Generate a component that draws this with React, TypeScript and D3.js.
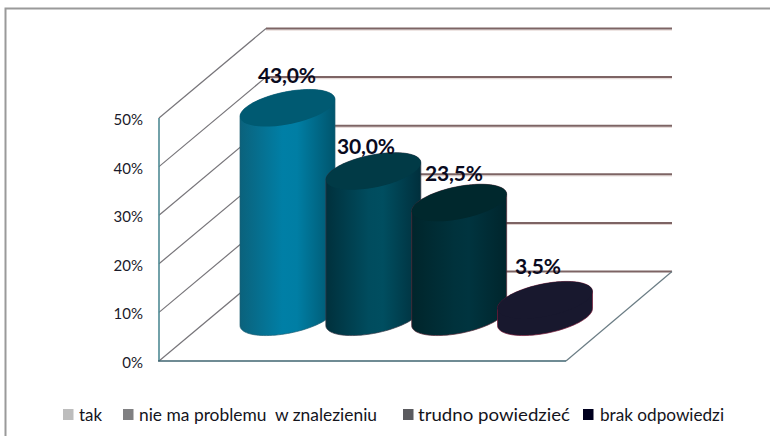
import React from "react";
import * as d3 from "d3";

const categories = ["tak", "nie ma problemu  w znalezieniu", "trudno powiedzieć", "brak odpowiedzi"];
const values = [43.0, 30.0, 23.5, 3.5];
const valueLabels = ["43,0%", "30,0%", "23,5%", "3,5%"];
const axisTicks = [0, 10, 20, 30, 40, 50];
const legendColors = ["#bdbdbd", "#808082", "#5b5b5f", "#00001e"];

const gradients = [
  ["#0b627c", "#007fa6", "#007ea4", "#00556d"],
  ["#00303c", "#004c5e", "#004e60", "#002f3c"],
  ["#00252b", "#00323c", "#00343f", "#00252c"],
  ["#18182e", "#18182e", "#18182e", "#18182e"],
];
const topColors = ["#005a72", "#013a46", "#00282d", "#18182e"];
const edgeColors = ["#1d5f74", "#3a3a48", "#5a2a38", "#7a1838"];

const legendSquares = [63, 123, 403, 583];
const legendText = [
  { x: 79, w: 23 },
  { x: 139, w: 238 },
  { x: 418, w: 152 },
  { x: 600, w: 124 },
];
const labelPos = [
  { x: 287, y: 83, w: 58 },
  { x: 366, y: 154, w: 58 },
  { x: 454, y: 181, w: 58 },
  { x: 538, y: 274, w: 46 },
];

const frontX = 159, backX = 266, frontRight = 566, backRight = 672;
const y0 = 361, y50 = 118, depth = 89.5;
const rx = 47.5, ry = 16.5, skew = -8.5;

const font = "Lato, Carlito, sans-serif";

function ellipsePts(cx: number, cy: number, from: number, to: number) {
  return d3.range(0, 49).map((i) => {
    const t = from + ((to - from) * i) / 48;
    return [cx + rx * Math.cos(t), cy + skew * Math.cos(t) + ry * Math.sin(t)] as [number, number];
  });
}

export default function App() {
  const yAxis = d3.scaleLinear().domain([0, 50]).range([y0, y50]);
  const x = d3.scalePoint<string>().domain(categories).range([287.5, 545]);
  const pxPerUnit = (y0 - y50) / 50;
  const baseY = 317;
  const line = d3.line();

  return (
    <svg width={770} height={436} style={{ position: "absolute", left: 0, top: 0, background: "#fff" }} fontFamily={font}>
      <defs>
        {gradients.map((g, i) => (
          <linearGradient key={i} id={`bar${i}`} x1="0" x2="1" y1="0" y2="0">
            {g.map((c, j) => (
              <stop key={j} offset={[0, 0.45, 0.6, 1][j]} stopColor={c} />
            ))}
          </linearGradient>
        ))}
      </defs>

      <path d="M5.5 436V8.5H770" fill="none" stroke="#9a9a9a" strokeWidth={2} />

      {axisTicks.map((t) => (
        <g key={t}>
          {t > 0 && (
            <>
              <line x1={backX} x2={backRight} y1={yAxis(t) - depth + 1.6} y2={yAxis(t) - depth + 1.6} stroke="#e2d3d0" strokeWidth={1} />
              <line x1={backX} x2={backRight} y1={yAxis(t) - depth} y2={yAxis(t) - depth} stroke="#7d6464" strokeWidth={2} />
            </>
          )}
          <line x1={frontX} y1={yAxis(t)} x2={backX} y2={yAxis(t) - depth} stroke="#77757a" strokeWidth={1.2} />
          <text x={143} y={yAxis(t) + 7} textAnchor="end" fontSize={15} fill="#1a1a2a">
            {t}%
          </text>
        </g>
      ))}
      <line x1={backX} x2={backRight} y1={y0 - depth} y2={y0 - depth} stroke="#7d6464" strokeWidth={2} />
      <line x1={frontRight} y1={y0} x2={backRight} y2={y0 - depth} stroke="#6a7c84" strokeWidth={1.2} />
      <line x1={frontX} x2={frontX} y1={y50} y2={y0} stroke="#4f8a94" strokeWidth={1.6} />
      <line x1={frontX - 1} x2={frontRight} y1={y0} y2={y0} stroke="#3f6470" strokeWidth={1.6} />

      {values.map((v, i) => {
        const cx = x(categories[i]) as number;
        const topY = baseY - v * pxPerUnit;
        const bottom = ellipsePts(cx, baseY, Math.PI, 0);
        const top = ellipsePts(cx, topY, 0, Math.PI * 2);
        return (
          <g key={i}>
            <path
              d={(line([...bottom, ...ellipsePts(cx, topY, 0, -Math.PI)]) as string) + "Z"}
              fill={`url(#bar${i})`}
              stroke={edgeColors[i]}
              strokeWidth={0.7}
            />
            <path d={(line(top) as string) + "Z"} fill={topColors[i]} />
          </g>
        );
      })}

      {valueLabels.map((l, i) => (
        <text
          key={i}
          x={labelPos[i].x - labelPos[i].w / 2}
          y={labelPos[i].y}
          fontSize={21}
          fontWeight={700}
          fill="#0a0a1e"
          textLength={labelPos[i].w}
          lengthAdjust="spacing"
        >
          {l}
        </text>
      ))}

      {categories.map((c, i) => (
        <g key={c}>
          <rect x={legendSquares[i]} y={409} width={10.5} height={11} fill={legendColors[i]} />
          <text x={legendText[i].x} y={420.5} fontSize={18} fill="#14141c" textLength={legendText[i].w} lengthAdjust="spacingAndGlyphs" style={{ whiteSpace: "pre" }}>
            {c}
          </text>
        </g>
      ))}
    </svg>
  );
}
